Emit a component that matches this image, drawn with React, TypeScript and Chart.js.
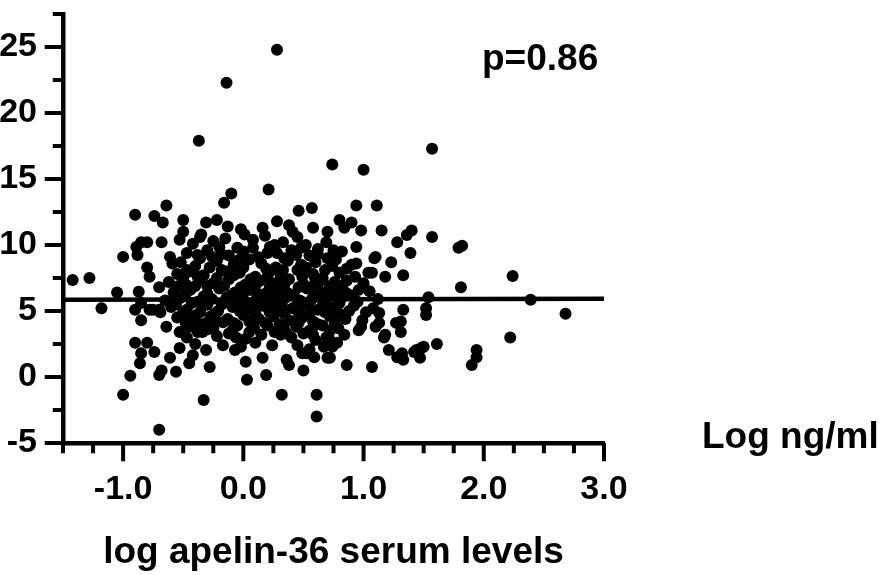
import React, { useEffect, useRef } from "react";
import { Chart, registerables } from "chart.js";

Chart.register(...registerables);

const FONT = "'Liberation Sans', Arial, Helvetica, sans-serif";

// Axis ranges and labels
const X_RANGE = [-1.5, 3.0];
const Y_RANGE = [-5, 27.5];
const X_STEP = 0.25;
const Y_STEP = 2.5;
const X_TITLE = "log apelin-36 serum levels";
const UNIT_LABEL = "Log ng/ml";
const P_LABEL = "p=0.86";

// Regression line end values
const lineX = [-1.5, 3.0];
const lineY = [5.85, 5.92];

// Scatter values [log apelin-36, y]
const sparsePoints: [number, number][] = [
  [0.28, 24.8], [-0.14, 22.3], [-0.37, 17.9], [1.57, 17.3], [0.74, 16.1], [1.0, 15.7],
  [0.21, 14.2], [-0.1, 13.9], [-0.16, 13.2], [-0.64, 13.0], [0.46, 12.6], [0.57, 12.8],
  [0.94, 13.0], [1.11, 13.0], [-1.42, 7.35], [-1.28, 7.5], [-1.18, 5.2], [-1.0, 9.1],
  [-1.05, 6.4], [-1.0, -1.35], [-0.33, -1.75], [-0.7, -4.0], [0.32, -1.35], [0.61, -1.35],
  [0.61, -3.0], [1.79, 9.8], [1.82, 9.95], [1.81, 6.8], [2.24, 7.65], [2.39, 5.85],
  [2.68, 4.8], [2.22, 3.0], [1.94, 2.05], [1.94, 1.5], [1.9, 0.9],
];

const leftGroup: [number, number][] = [
  [-0.9, 12.3], [-0.74, 12.2], [-0.67, 11.7], [-0.5, 11.9], [-0.5, 11.0], [-0.53, 10.4],
  [-0.85, 10.2], [-0.8, 10.2], [-0.89, 9.85], [-0.68, 10.2], [-0.88, 9.25], [-0.8, 8.3],
  [-0.78, 7.6], [-0.7, 6.8], [-0.61, 9.1], [-0.59, 8.6], [-0.87, 6.45], [-0.85, 4.3],
  [-0.9, 5.1], [-0.9, 2.6], [-0.8, 2.6], [-0.74, 1.9], [-0.85, 1.8], [-0.86, 1.05],
  [-0.94, 0.1], [-0.7, 0.15], [-0.68, 0.5], [-0.56, 0.4], [-0.61, 1.45], [-0.64, 3.8],
  [-0.53, 3.4], [-0.7, 5.1], [-0.78, 5.1], [-0.85, 5.6], [-0.53, 2.2], [-0.75, 5.1],
  [-0.69, 4.9],
];

const upperGroup: [number, number][] = [
  [-0.31, 11.7], [-0.22, 11.9], [-0.13, 11.4], [-0.36, 10.6], [-0.38, 9.25], [-0.26, 9.1],
  [-0.2, 9.85], [0.8, 11.9], [0.9, 11.7], [0.98, 11.1], [0.84, 11.3], [0.38, 11.5],
  [0.41, 11.0], [0.16, 11.3], [0.01, 10.8], [1.15, 11.1], [1.28, 10.2], [1.36, 10.75],
  [0.69, 10.2], [0.75, 9.6], [0.94, 9.85], [0.22, 9.85], [0.26, 10.0], [0.34, 9.0],
  [0.44, 9.25], [1.09, 9.0], [1.23, 8.7], [0.9, 8.5], [1.07, 7.9], [1.18, 7.6],
  [1.33, 7.7], [1.4, 11.1], [1.57, 10.6], [1.39, 9.4],
];

const rightGroup: [number, number][] = [
  [1.54, 6.05], [1.52, 5.2], [1.52, 4.7], [1.33, 5.1], [1.31, 4.2], [1.31, 3.4],
  [1.61, 2.5], [1.48, 2.2], [1.42, 1.9], [1.33, 1.3], [1.47, 1.45], [1.21, 2.05],
  [1.28, 1.5], [0.96, 3.55], [1.1, 3.8], [1.17, 3.0], [1.02, 4.9], [0.99, 4.3],
  [0.86, 0.9], [1.07, 0.75], [1.27, 4.1], [1.13, 4.1], [0.98, 3.8], [1.18, 3.2],
  [1.32, 1.8], [1.44, 2.05], [1.5, 2.3], [0.72, 1.45], [0.49, 1.8], [0.36, 1.3],
  [0.96, 6.6], [1.04, 7.9], [0.94, 8.6], [1.1, 9.1], [0.57, 6.6], [0.55, 5.3],
  [0.46, 4.9], [1.13, 4.85], [0.69, 3.0], [0.74, 2.3],
];

const lowerGroup: [number, number][] = [
  [-0.28, 0.75], [-0.45, 1.05], [-0.47, 3.0], [-0.34, 3.4], [-0.31, 4.1], [-0.17, 4.15],
  [-0.09, 3.55], [-0.07, 2.05], [-0.17, 2.4], [-0.31, 2.05], [-0.42, 1.65], [-0.47, 4.7],
  [-0.39, 4.7], [0.03, -0.2], [0.02, 1.15], [0.16, 1.45], [0.19, 0.15], [0.38, 0.9],
  [0.5, 0.5], [0.53, 1.8], [0.7, 1.45], [0.59, 1.5], [-0.06, 3.0], [0.24, 2.4],
  [0.31, 3.2], [0.67, 2.3], [0.71, 3.0],
];

const coreGroup: [number, number][] = [
  [-0.42, 10.1], [-0.25, 10.3], [-0.05, 9.8], [0.08, 10.4], [0.33, 10.2], [0.52, 10.0], [0.62, 9.7],
  [-0.47, 9.4], [-0.3, 9.6], [-0.12, 9.2], [0.0, 9.5], [0.12, 9.1], [0.2, 9.4], [0.4, 9.6],
  [0.55, 9.2], [0.7, 9.0], [0.82, 9.5],
  [-0.52, 8.7], [-0.4, 8.4], [-0.22, 8.8], [-0.08, 8.5], [0.05, 8.9], [0.15, 8.6], [0.27, 8.3],
  [0.37, 8.8], [0.48, 8.5], [0.6, 8.7], [0.74, 8.4],
  [-0.55, 7.8], [-0.45, 8.0], [-0.33, 7.7], [-0.18, 8.1], [-0.03, 7.9], [0.1, 7.6], [0.22, 8.0],
  [0.31, 7.7], [0.45, 8.1], [0.58, 7.8], [0.66, 7.5], [0.8, 7.9], [0.93, 7.6],
  [-0.62, 7.2], [-0.48, 7.0], [-0.37, 7.3], [-0.25, 7.1], [-0.12, 7.4], [0.02, 7.0], [0.14, 7.3],
  [0.26, 7.1], [0.38, 7.4], [0.5, 7.0], [0.63, 7.2], [0.72, 6.9], [0.86, 7.3], [1.0, 7.1],
  [-0.58, 6.4], [-0.44, 6.6], [-0.3, 6.3], [-0.2, 6.7], [-0.07, 6.4], [0.06, 6.6], [0.18, 6.3],
  [0.3, 6.5], [0.42, 6.2], [0.53, 6.7], [0.66, 6.4], [0.78, 6.6], [0.9, 6.2], [1.05, 6.5],
  [-0.65, 5.8], [-0.52, 6.0], [-0.38, 5.7], [-0.26, 5.9], [-0.14, 6.0], [-0.01, 5.7], [0.11, 5.9],
  [0.23, 5.6], [0.35, 6.0], [0.47, 5.8], [0.57, 5.9], [0.69, 5.6], [0.81, 5.9], [0.95, 5.7], [1.12, 5.9],
  [-0.6, 5.3], [-0.47, 5.1], [-0.33, 5.4], [-0.21, 5.0], [-0.09, 5.3], [0.04, 5.1], [0.16, 5.4],
  [0.28, 5.0], [0.41, 5.2], [0.51, 5.5], [0.62, 5.1], [0.76, 5.3], [0.88, 5.0], [1.08, 5.2],
  [-0.55, 4.5], [-0.42, 4.3], [-0.27, 4.6], [-0.13, 4.4], [0.0, 4.7], [0.13, 4.4], [0.25, 4.6],
  [0.38, 4.3], [0.49, 4.5], [0.58, 4.2], [0.72, 4.6], [0.85, 4.4],
  [-0.45, 3.8], [-0.3, 3.6], [-0.05, 3.9], [0.09, 3.7], [0.2, 3.9], [0.34, 3.6], [0.44, 3.8],
  [0.55, 3.5], [0.66, 3.9], [0.79, 3.7],
  [-0.22, 3.1], [0.02, 2.9], [0.15, 3.2], [0.4, 3.0], [0.5, 3.3], [0.6, 2.8], [0.84, 3.2],
  [-0.4, 2.5], [-0.02, 2.3], [0.1, 2.6], [0.45, 2.4], [0.55, 2.1], [0.78, 2.6],
];

const coreFill: [number, number][] = [
  [-0.35, 10.8], [-0.15, 10.5], [0.18, 10.7], [0.45, 10.6], [-0.02, 11.2], [0.28, 11.8], [0.58, 11.3], [0.7, 11.0],
  [-0.36, 9.0], [-0.18, 9.3], [-0.03, 8.9], [0.08, 9.8], [0.28, 9.4], [0.48, 9.8], [0.62, 9.3], [0.77, 8.9],
  [-0.47, 8.1], [-0.28, 8.3], [-0.14, 8.0], [0.0, 8.3], [0.19, 8.2], [0.33, 8.1], [0.52, 8.3], [0.68, 8.1], [0.86, 8.2],
  [-0.5, 7.5], [-0.38, 7.6], [-0.22, 7.5], [-0.08, 7.7], [0.06, 7.4], [0.2, 7.6], [0.34, 7.3], [0.49, 7.6], [0.6, 7.4], [0.76, 7.2],
  [-0.54, 6.9], [-0.4, 6.9], [-0.3, 6.9], [-0.16, 6.9], [-0.02, 6.8], [0.1, 6.9], [0.22, 6.8], [0.34, 6.9], [0.46, 6.8], [0.58, 6.9], [0.82, 6.9],
  [-0.48, 6.3], [-0.33, 6.1], [-0.1, 6.2], [0.0, 6.3], [0.14, 6.2], [0.26, 6.2], [0.38, 6.3], [0.62, 6.1], [0.73, 6.2], [0.85, 6.4],
  [-0.56, 5.5], [-0.43, 5.6], [-0.3, 5.5], [-0.18, 5.5], [-0.05, 5.4], [0.08, 5.5], [0.2, 5.3], [0.32, 5.5], [0.45, 5.5], [0.66, 5.4], [0.8, 5.6], [0.92, 5.4],
  [-0.5, 4.9], [-0.36, 4.9], [-0.24, 4.8], [-0.03, 5.0], [0.1, 4.8], [0.22, 4.9], [0.34, 4.8], [0.46, 4.1], [0.55, 4.8], [0.68, 4.9], [0.8, 4.8],
  [-0.48, 4.1], [-0.36, 4.0], [-0.22, 4.2], [-0.08, 4.1], [0.05, 4.2], [0.18, 4.1], [0.3, 4.0], [0.42, 4.2], [0.62, 4.0], [0.76, 4.1],
  [-0.38, 3.4], [-0.25, 3.7], [-0.12, 3.3], [0.05, 3.4], [0.26, 3.4], [0.36, 3.3], [0.58, 3.2], [0.72, 3.5],
];

const MAJOR_TICK = 16;
const MINOR_TICK = 8;
const AXIS_WIDTH = 4.5;
const TICK_WIDTH = 4;

const isMajorX = (v: number) => Math.abs(v - Math.round(v)) < 1e-6;
const isMajorY = (v: number) => Math.abs(v / 5 - Math.round(v / 5)) < 1e-6;

const tickMarkPlugin = {
  id: "axisTickMarks",
  afterDraw(chart: any) {
    const ctx = chart.ctx;
    const area = chart.chartArea;
    const xs = chart.scales.x;
    const ys = chart.scales.y;
    ctx.save();
    ctx.fillStyle = "#000";
    for (let i = X_RANGE[0]; i <= X_RANGE[1] + 1e-9; i += X_STEP) {
      const v = Math.round(i * 100) / 100;
      const px = xs.getPixelForValue(v);
      const len = isMajorX(v) ? MAJOR_TICK : MINOR_TICK;
      ctx.fillRect(px - TICK_WIDTH / 2, area.bottom, TICK_WIDTH, AXIS_WIDTH / 2 + len);
    }
    for (let i = Y_RANGE[0]; i <= Y_RANGE[1] + 1e-9; i += Y_STEP) {
      const v = Math.round(i * 100) / 100;
      const py = ys.getPixelForValue(v);
      const len = isMajorY(v) ? MAJOR_TICK : MINOR_TICK;
      ctx.fillRect(area.left - AXIS_WIDTH / 2 - len, py - TICK_WIDTH / 2, AXIS_WIDTH / 2 + len, TICK_WIDTH);
    }
    ctx.restore();
  },
};

const annotationPlugin = {
  id: "annotations",
  afterDraw(chart: any) {
    const { ctx, chartArea } = chart;
    ctx.save();
    ctx.fillStyle = "#000";
    ctx.textBaseline = "alphabetic";
    ctx.textAlign = "left";
    ctx.font = `bold 37px ${FONT}`;
    ctx.fillText(P_LABEL, chartArea.left + 419, chartArea.top + 56);
    ctx.fillText(UNIT_LABEL, chartArea.right + 98, chartArea.bottom + 5);
    ctx.restore();
  },
};

export default function App() {
  const canvasRef = useRef<HTMLCanvasElement | null>(null);

  useEffect(() => {
    if (!canvasRef.current) return;
    const allPoints = [
      ...sparsePoints,
      ...leftGroup,
      ...upperGroup,
      ...rightGroup,
      ...lowerGroup,
      ...coreGroup,
      ...coreFill,
    ].map(([x, y]) => ({ x, y }));
    const linePoints = lineX.map((x, i) => ({ x, y: lineY[i] }));

    const chart = new Chart(canvasRef.current, {
      type: "scatter",
      data: {
        datasets: [
          {
            label: "samples",
            data: allPoints,
            backgroundColor: "#000",
            borderColor: "#000",
            borderWidth: 0,
            pointRadius: 6,
            pointHoverRadius: 6,
          },
          {
            label: "fit",
            data: linePoints,
            showLine: true,
            borderColor: "#000",
            borderWidth: 4.5,
            pointRadius: 0,
            fill: false,
          } as any,
        ],
      },
      options: {
        animation: false,
        responsive: false,
        devicePixelRatio: 1,
        layout: { padding: { left: 0, right: 279, top: 14, bottom: 0 } },
        plugins: {
          legend: { display: false },
          tooltip: { enabled: false },
        },
        scales: {
          x: {
            type: "linear",
            min: X_RANGE[0],
            max: X_RANGE[1],
            afterFit: (scale: any) => {
              scale.height = 132;
              scale.paddingLeft = 0;
              scale.paddingRight = 0;
            },
            grid: { display: false },
            border: { display: true, color: "#000", width: AXIS_WIDTH },
            ticks: {
              stepSize: X_STEP,
              autoSkip: false,
              maxRotation: 0,
              minRotation: 0,
              padding: 18,
              color: "#000",
              font: { family: FONT, size: 34, weight: "bold" },
              callback: (v: any) => (isMajorX(Number(v)) ? Number(v).toFixed(1) : ""),
            },
            title: {
              display: true,
              text: X_TITLE,
              color: "#000",
              font: { family: FONT, size: 37, weight: "bold" },
              padding: { top: 0, bottom: 0 },
            },
          },
          y: {
            type: "linear",
            min: Y_RANGE[0],
            max: Y_RANGE[1],
            afterFit: (scale: any) => {
              scale.width = 63;
              scale.paddingTop = 0;
              scale.paddingBottom = 0;
            },
            grid: { display: false },
            border: { display: true, color: "#000", width: AXIS_WIDTH },
            ticks: {
              stepSize: Y_STEP,
              autoSkip: false,
              padding: 18,
              color: "#000",
              font: { family: FONT, size: 34, weight: "bold" },
              callback: (v: any) => (isMajorY(Number(v)) && Number(v) <= 25 ? String(v) : ""),
            },
          },
        },
      },
      plugins: [tickMarkPlugin, annotationPlugin],
    });
    return () => chart.destroy();
  }, []);

  return (
    <div style={{ position: "fixed", left: 0, top: 0, width: 883, height: 575, background: "#fff" }}>
      <canvas ref={canvasRef} width={883} height={575} style={{ display: "block" }} />
    </div>
  );
}
